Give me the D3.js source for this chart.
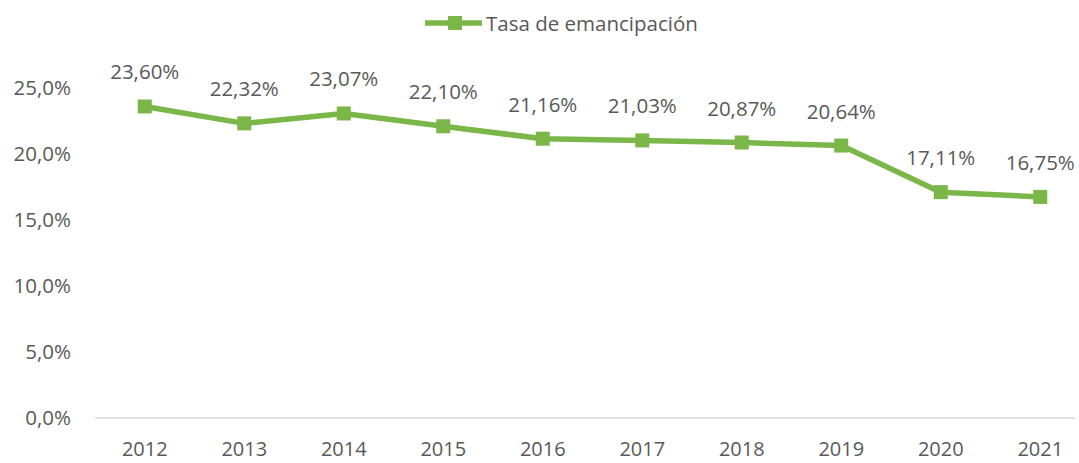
<!DOCTYPE html>
<html>
<head>
<meta charset="utf-8">
<script src="https://cdn.jsdelivr.net/npm/d3@7"></script>
<style>
  body { margin: 0; background: #fff; }
  svg text { font-family: "Open Sans", "Liberation Sans", sans-serif; fill: #595959; }
</style>
</head>
<body>
<svg id="chart" width="1079" height="463"></svg>
<script>
const years = ["2012", "2013", "2014", "2015", "2016", "2017", "2018", "2019", "2020", "2021"];
const rates = [23.60, 22.32, 23.07, 22.10, 21.16, 21.03, 20.87, 20.64, 17.11, 16.75];
const yTicks = [0, 5, 10, 15, 20, 25];
const seriesName = "Tasa de emancipación";

const lineColor = "#7ab648";
const fontSize = 20.5;
const svg = d3.select("#chart");

// scales
const x = d3.scaleBand().domain(years).range([95, 1090]);
const y = d3.scaleLinear().domain([0, 25]).range([418, 88]);

const fmtTick = v => v.toFixed(1).replace(".", ",") + "%";
const fmtLabel = v => v.toFixed(2).replace(".", ",") + "%";

// y axis labels (no line)
const yAxis = svg.append("g")
    .attr("transform", "translate(71,0)")
    .call(d3.axisLeft(y).tickValues(yTicks).tickFormat(fmtTick).tickSize(0).tickPadding(0));
yAxis.select(".domain").remove();
yAxis.selectAll("text").attr("font-size", fontSize).attr("fill", "#595959");

// x axis
const xAxis = svg.append("g")
    .attr("transform", `translate(0,${y(0)})`)
    .call(d3.axisBottom(x).tickSize(0).tickPadding(24));
xAxis.select(".domain").attr("stroke", "#d9d9d9").attr("stroke-width", 1.5)
    .attr("d", `M95,0H1075`);
xAxis.selectAll("text").attr("font-size", 20).attr("fill", "#595959");

const cx = d => x(d) + x.bandwidth() / 2;
const data = years.map((yr, i) => ({ year: yr, value: rates[i] }));

// line
const line = d3.line()
    .x(d => cx(d.year))
    .y(d => y(d.value));

svg.append("path")
    .datum(data)
    .attr("fill", "none")
    .attr("stroke", lineColor)
    .attr("stroke-width", 5.5)
    .attr("stroke-linejoin", "round")
    .attr("d", line);

// square markers
svg.selectAll(".marker")
    .data(data)
    .enter()
    .append("rect")
    .attr("class", "marker")
    .attr("x", d => cx(d.year) - 7)
    .attr("y", d => y(d.value) - 7)
    .attr("width", 14)
    .attr("height", 14)
    .attr("fill", lineColor);

// data labels
svg.selectAll(".label")
    .data(data)
    .enter()
    .append("text")
    .attr("class", "label")
    .attr("x", d => cx(d.year))
    .attr("y", d => y(d.value) - 27)
    .attr("text-anchor", "middle")
    .attr("font-size", fontSize)
    .text(d => fmtLabel(d.value));

// legend
const legend = svg.append("g").attr("transform", "translate(425,23)");
legend.append("line")
    .attr("x1", 0).attr("x2", 57)
    .attr("stroke", lineColor)
    .attr("stroke-width", 5.5);
legend.append("rect")
    .attr("x", 23).attr("y", -7)
    .attr("width", 14).attr("height", 14)
    .attr("fill", lineColor);
legend.append("text")
    .attr("x", 61)
    .attr("y", 8)
    .attr("font-size", fontSize)
    .text(seriesName);
</script>
</body>
</html>
